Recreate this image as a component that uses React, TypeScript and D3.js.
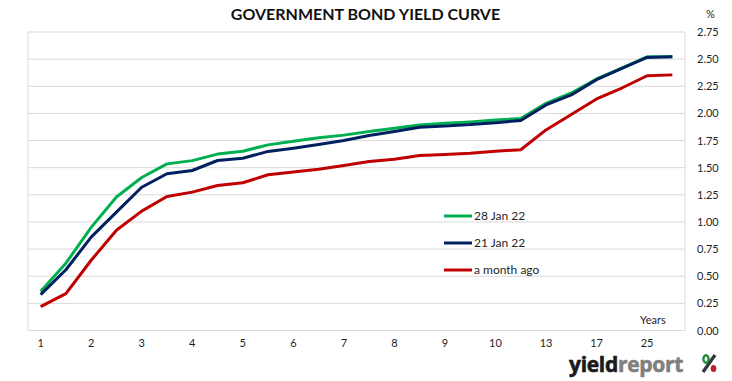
import React from "react";
import * as d3 from "d3";

const categories = ["1","1.5","2","2.5","3","3.5","4","4.5","5","5.5","6","6.5","7","7.5","8","8.5","9","9.5","10","11","13","15","17","20","25","30"];
const tickLabels = ["1","2","3","4","5","6","7","8","9","10","13","17","25"];
const jan28 = [0.36,0.62,0.95,1.23,1.41,1.535,1.565,1.625,1.652,1.71,1.744,1.775,1.80,1.833,1.863,1.894,1.909,1.922,1.94,1.952,2.093,2.188,2.317,2.418,2.522,2.522];
const jan21 = [0.33,0.56,0.86,1.09,1.32,1.444,1.474,1.566,1.587,1.65,1.68,1.713,1.75,1.796,1.833,1.872,1.885,1.897,1.915,1.934,2.078,2.17,2.311,2.415,2.516,2.522];
const monthAgo = [0.22,0.34,0.647,0.923,1.10,1.235,1.275,1.336,1.361,1.435,1.46,1.486,1.52,1.557,1.578,1.612,1.621,1.633,1.652,1.665,1.848,1.99,2.133,2.234,2.347,2.355];
const yTicks = [0,0.25,0.5,0.75,1,1.25,1.5,1.75,2,2.25,2.5,2.75];
const seriesNames = ["28 Jan 22","21 Jan 22","a month ago"];
const seriesColors = ["#00b050","#002060","#c00000"];

const W = 732, H = 381;
const L = 28, R = 685, T = 32, B = 330.5;
const FONT = "Lato, 'Open Sans', sans-serif";

export default function App() {
  const x = d3.scaleBand().domain(categories).range([L, R]);
  const y = d3.scaleLinear().domain([0, 2.75]).range([B, T]);
  const cx = (c: string) => (x(c) as number) + x.bandwidth() / 2;
  const line = d3.line<number>().x((_, i) => cx(categories[i])).y(d => y(d));
  const series = [jan28, jan21, monthAgo];
  const drawOrder = [2, 0, 1];
  return (
    <svg width={W} height={H} style={{ position: "absolute", left: 0, top: 0 }} fontFamily={FONT}>
      <rect x={0} y={0} width={W} height={H} fill="#fff" />
      {yTicks.map(t => (
        <line key={t} x1={L} x2={R} y1={y(t)} y2={y(t)} stroke="#d9d9d9" strokeWidth={1} />
      ))}
      <line x1={L} x2={L} y1={T} y2={B} stroke="#d9d9d9" />
      <line x1={R} x2={R} y1={T} y2={B} stroke="#d9d9d9" />
      {yTicks.map(t => (
        <text key={t} x={697} y={y(t) + 4} fontSize={11} fill="#1f1f1f">{t.toFixed(2)}</text>
      ))}
      <text x={706} y={18} fontSize={11} fill="#1f1f1f">%</text>
      {tickLabels.map(c => (
        <text key={c} x={cx(c)} y={347} fontSize={11} textAnchor="middle" fill="#1f1f1f">{c}</text>
      ))}
      <text x={640} y={324} fontSize={11} fill="#1f1f1f">Years</text>
      <text x={365.5} y={20} fontSize={16} fontWeight="bold" textAnchor="middle" fill="#111">GOVERNMENT BOND YIELD CURVE</text>
      {drawOrder.map(i => (
        <path key={i} d={line(series[i]) || ""} fill="none" stroke={seriesColors[i]} strokeWidth={3} strokeLinejoin="round" />
      ))}
      {seriesNames.map((n, i) => (
        <g key={n}>
          <line x1={444} x2={472} y1={216 + i * 27} y2={216 + i * 27} stroke={seriesColors[i]} strokeWidth={3} />
          <text x={474} y={220 + i * 27} fontSize={12} fill="#1f1f1f">{n}</text>
        </g>
      ))}
      <g>
        <text x={569} y={372} fontSize={21} fontWeight="bold" fill="#1a1a1a" stroke="#1a1a1a" strokeWidth={0.6} fontFamily="'Open Sans', sans-serif" letterSpacing={-0.3}>
          yield<tspan fill="#7f7f7f" stroke="#7f7f7f">report</tspan>
        </text>
        <line x1={715} y1={355} x2={703} y2={372} stroke="#333" strokeWidth={3.2} />
        <ellipse cx={706} cy={359} rx={2.6} ry={3.8} fill="none" stroke="#1f8f3a" strokeWidth={2.4} />
        <ellipse cx={713.5} cy={368.5} rx={2.8} ry={3.6} fill="#c0202a" />
      </g>
    </svg>
  );
}
